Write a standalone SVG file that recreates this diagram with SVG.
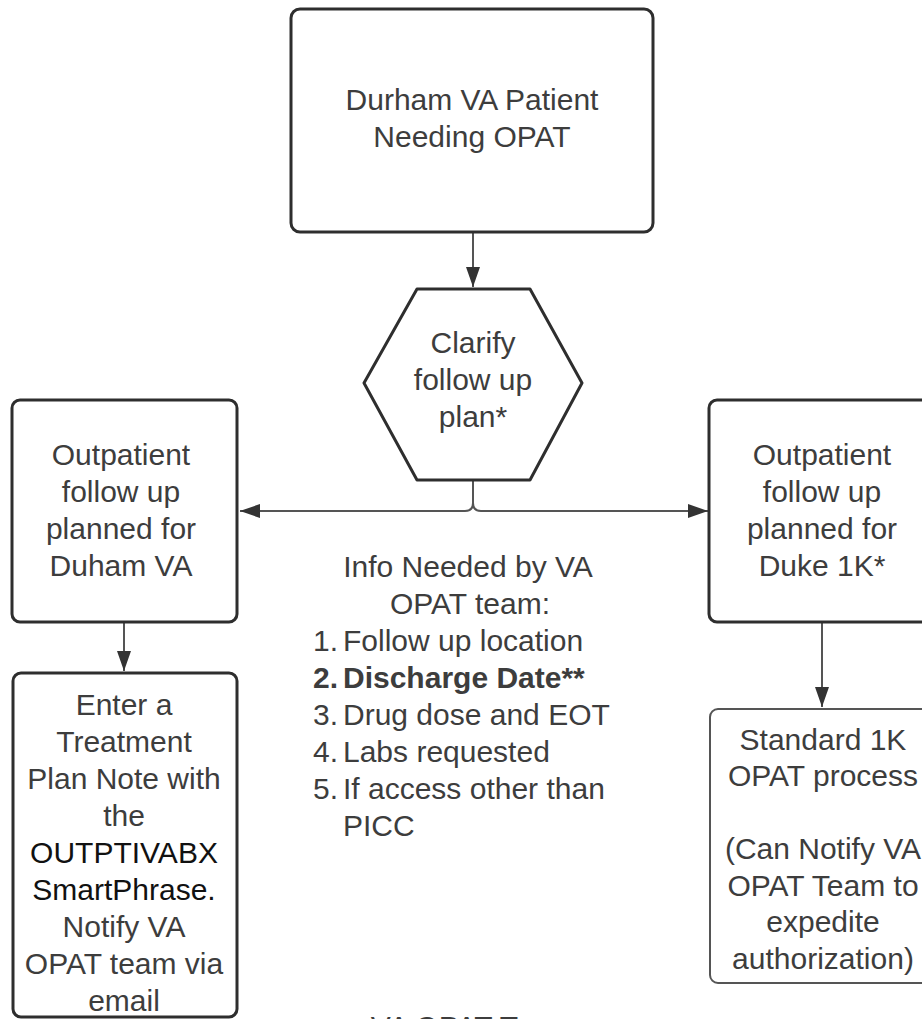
<svg xmlns="http://www.w3.org/2000/svg" width="922" height="1019" viewBox="0 0 922 1019">
<defs>
<style>
.box{fill:#fff;stroke:#2e2e2e;stroke-width:3}
.thin{fill:#fff;stroke:#555;stroke-width:2}
.t{font-family:"Liberation Sans",Arial,sans-serif;font-size:30px;fill:#3d3d3d;text-anchor:middle}
.l{font-family:"Liberation Sans",Arial,sans-serif;font-size:30px;fill:#3d3d3d}
.blk{fill:#111}
.b{font-weight:bold}
.c{fill:none;stroke:#555;stroke-width:2}
</style>
<marker id="ah" viewBox="0 0 20 14" refX="20" refY="7" markerWidth="20" markerHeight="14" orient="auto" markerUnits="userSpaceOnUse"><path d="M0,0 L20,7 L0,14 z" fill="#333"/></marker>
</defs>
<rect width="922" height="1019" fill="#fff"/>

<g id="connectors">
<path class="c" d="M473 233 V287" marker-end="url(#ah)"/>
<path class="c" d="M473 481 V503 Q473 511 465 511 H240" marker-end="url(#ah)"/>
<path class="c" d="M473 503 Q473 511 481 511 H708" marker-end="url(#ah)"/>
<path class="c" d="M124 623 V671" marker-end="url(#ah)"/>
<path class="c" d="M822 623 V707" marker-end="url(#ah)"/>
</g>

<g id="start">
<rect class="box" x="291" y="9" width="362" height="223" rx="9"/>
<text class="t" x="472" y="110">Durham VA Patient</text>
<text class="t" x="472" y="147">Needing OPAT</text>
</g>

<g id="clarify">
<path class="box" d="M417 289 H530 L582 383 L530 480 H417 L364 383 Z" stroke-linejoin="round"/>
<text class="t" x="473" y="353">Clarify</text>
<text class="t" x="473" y="390">follow up</text>
<text class="t" x="473" y="427">plan*</text>
</g>

<g id="va-followup">
<rect class="box" x="12" y="400" width="225" height="222" rx="8"/>
<text class="t" x="121" y="465">Outpatient</text>
<text class="t" x="121" y="502">follow up</text>
<text class="t" x="121" y="539">planned for</text>
<text class="t" x="121" y="576">Duham VA</text>
</g>

<g id="duke-followup">
<rect class="box" x="709" y="400" width="226" height="222" rx="8"/>
<text class="t" x="822" y="465">Outpatient</text>
<text class="t" x="822" y="502">follow up</text>
<text class="t" x="822" y="539">planned for</text>
<text class="t" x="822" y="576">Duke 1K*</text>
</g>

<g id="treatment-note">
<rect class="box" x="13" y="673" width="224" height="344" rx="8"/>
<text class="t" x="124" y="715">Enter a</text>
<text class="t" x="124" y="752">Treatment</text>
<text class="t" x="124" y="789">Plan Note with</text>
<text class="t" x="124" y="826">the</text>
<text class="t blk" x="124" y="863">OUTPTIVABX</text>
<text class="t blk" x="124" y="900">SmartPhrase.</text>
<text class="t" x="124" y="937">Notify VA</text>
<text class="t" x="124" y="974">OPAT team via</text>
<text class="t" x="124" y="1011">email</text>
</g>

<g id="standard-1k">
<rect class="thin" x="710" y="709" width="226" height="274" rx="8"/>
<text class="t" x="823" y="750">Standard 1K</text>
<text class="t" x="823" y="786">OPAT process</text>
<text class="t" x="823" y="859">(Can Notify VA</text>
<text class="t" x="823" y="896">OPAT Team to</text>
<text class="t" x="823" y="932">expedite</text>
<text class="t" x="823" y="969">authorization)</text>
</g>

<g id="info-needed">
<text class="t" x="468" y="577">Info Needed by VA</text>
<text class="t" x="470" y="614">OPAT team:</text>
<text class="l" x="313" y="651">1.</text><text class="l" x="343" y="651">Follow up location</text>
<text class="l b" x="313" y="688">2.</text><text class="l b" x="343" y="688">Discharge Date**</text>
<text class="l" x="313" y="725">3.</text><text class="l" x="343" y="725">Drug dose and EOT</text>
<text class="l" x="313" y="762">4.</text><text class="l" x="343" y="762">Labs requested</text>
<text class="l" x="313" y="799">5.</text><text class="l" x="343" y="799">If access other than</text>
<text class="l" x="343" y="836">PICC</text>
</g>

<g id="va-opat-team">
<text class="t" x="472" y="1037">VA OPAT Team</text>
</g>
</svg>
